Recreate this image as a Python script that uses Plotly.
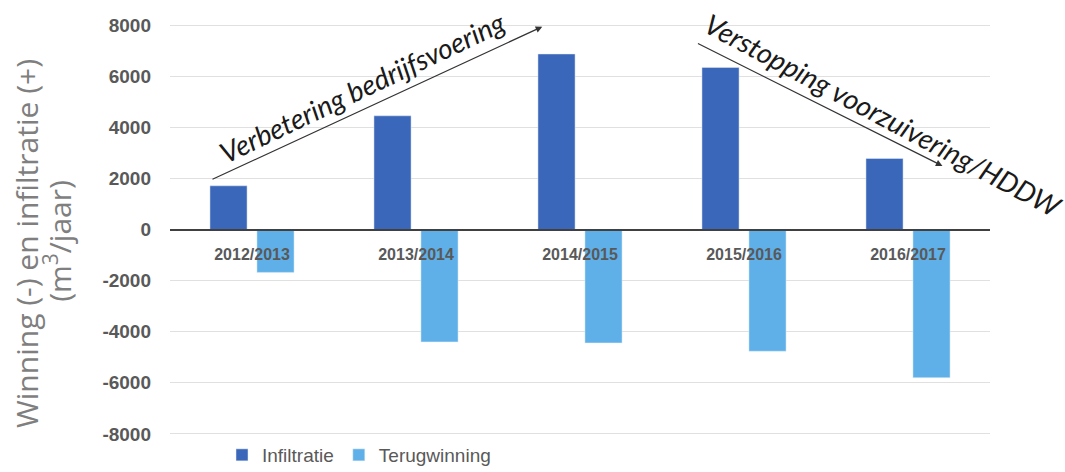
import plotly.graph_objects as go

# Seasons on the category axis
seasons = ["2012/2013", "2013/2014", "2014/2015", "2015/2016", "2016/2017"]

# Yearly volumes (m3/jaar): infiltration positive, recovery negative
infiltratie = [1710, 4450, 6870, 6345, 2780]
terugwinning = [-1680, -4400, -4440, -4765, -5800]

y_ticks = [-8000, -6000, -4000, -2000, 0, 2000, 4000, 6000, 8000]
y_tick_text = [str(v) for v in y_ticks]

# Trend arrows: (tail_x, tail_y, head_x, head_y) in data units
trend_up = (-0.25, 1940, 1.77, 7940)
trend_down = (2.71, 7310, 4.21, 2490)

grey = "#595959"

fig = go.Figure()
fig.add_trace(go.Bar(x=seasons, y=infiltratie, name="Infiltratie",
                     marker_color="#3A67B9"))
fig.add_trace(go.Bar(x=seasons, y=terugwinning, name="Terugwinning",
                     marker_color="#5FB0E8"))

fig.update_layout(
    width=1065, height=472,
    margin=dict(l=170, r=75, t=20, b=33, autoexpand=False),
    plot_bgcolor="white", paper_bgcolor="white",
    barmode="group", bargap=0.427, bargroupgap=0.21,
    showlegend=True,
    legend=dict(orientation="h", x=222 / 1065, xref="container", xanchor="left",
                y=0.036, yref="container", yanchor="middle",
                font=dict(family="Liberation Sans, Arial", size=19, color=grey),
                itemwidth=30, traceorder="normal"),
)

fig.update_xaxes(
    type="category", range=[-0.5, len(seasons) - 0.5],
    anchor="free", position=0.5,
    showline=True, linecolor="#404040", linewidth=2,
    showgrid=False, ticks="", ticklabelstandoff=10,
    tickfont=dict(family="Liberation Sans, Arial", size=16, color=grey, weight="bold"),
)

fig.update_yaxes(
    range=[-8200, 8200], tickvals=y_ticks, ticktext=y_tick_text,
    showgrid=True, gridcolor="#e0e0e0", gridwidth=1,
    zeroline=False, showline=False, ticks="",
    ticklabelstandoff=18,
    tickfont=dict(family="Liberation Sans, Arial", size=19, color=grey, weight="bold"),
)

# Y-axis caption (two rotated lines left of the tick labels)
caption_font = dict(family="Open Sans, Noto Sans", size=30, color="#7f7f7f")
for line, xpos, ypos in (("Winning (-) en infiltratie (+)", -0.1744, 0.468),
                         ("(m<sup>3</sup>/jaar)", -0.1366, 0.473)):
    fig.add_annotation(xref="paper", yref="paper", x=xpos, y=ypos,
                       xanchor="center", yanchor="middle", showarrow=False,
                       textangle=-90, text=line, font=caption_font)

arrow_style = dict(xref="x", yref="y", axref="x", ayref="y", showarrow=True,
                   arrowhead=2, arrowsize=1.1, arrowwidth=1.2, arrowcolor="#333333",
                   text="")
for tx, ty, hx, hy in (trend_up, trend_down):
    fig.add_annotation(x=hx, y=hy, ax=tx, ay=ty, **arrow_style)

label_font = dict(family="Lato, Open Sans", size=28, color="#1a1a1a", style="italic")
fig.add_annotation(x=0.67, y=5590, xref="x", yref="y", text="Verbetering bedrijfsvoering",
                   showarrow=False, textangle=-25.5, font=label_font)
fig.add_annotation(x=3.85, y=4490, xref="x", yref="y", text="Verstopping voorzuivering/HDDW",
                   showarrow=False, textangle=28, font=label_font)

fig.write_html("out.html")
